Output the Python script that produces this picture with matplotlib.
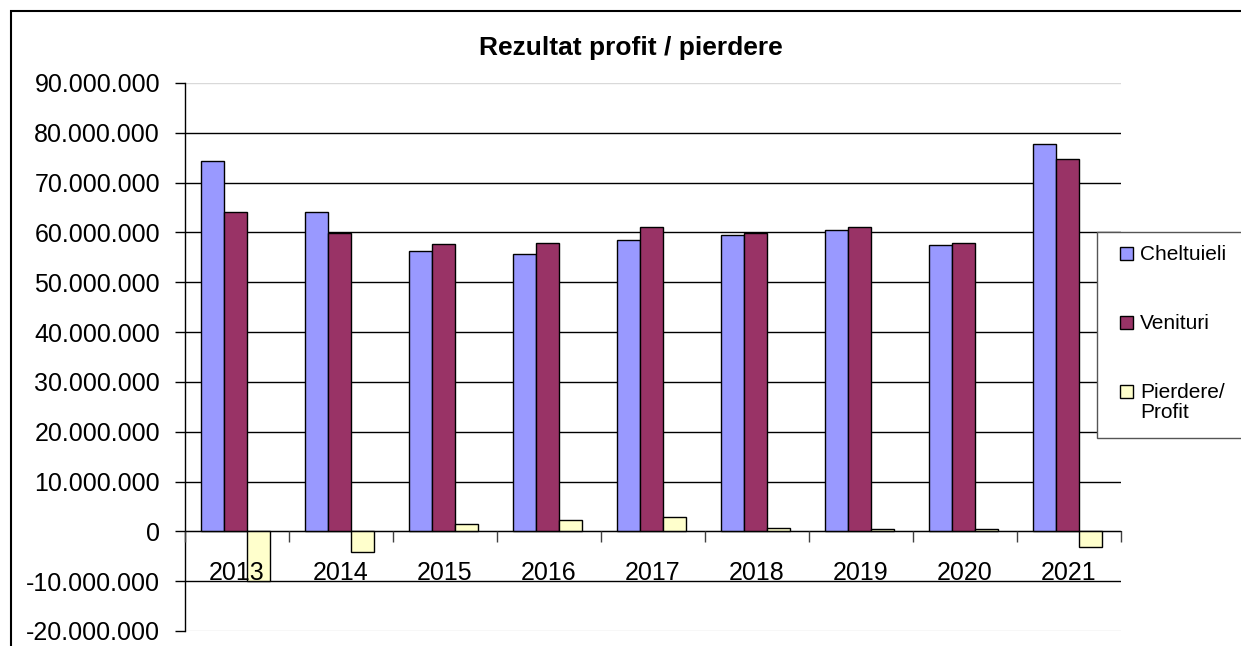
import matplotlib
matplotlib.use("Agg")
import matplotlib.pyplot as plt
from matplotlib.patches import Rectangle
from matplotlib.ticker import FuncFormatter, FixedLocator
import numpy as np

# date
ani = ["2013", "2014", "2015", "2016", "2017", "2018", "2019", "2020", "2021"]
cheltuieli = [74.3e6, 64.1e6, 56.2e6, 55.7e6, 58.5e6, 59.4e6, 60.5e6, 57.4e6, 77.7e6]
venituri = [64.1e6, 59.9e6, 57.7e6, 57.95e6, 61.0e6, 59.9e6, 61.0e6, 57.9e6, 74.8e6]
pierdere_profit = [-10.0e6, -4.2e6, 1.4e6, 2.3e6, 2.8e6, 0.6e6, 0.5e6, 0.5e6, -3.1e6]
serii = ["Cheltuieli", "Venituri", "Pierdere/\nProfit"]
culori = ["#9999FF", "#993366", "#FFFFCC"]

plt.rcParams["font.family"] = ["Liberation Sans", "DejaVu Sans"]

W, H = 1241, 646
fig = plt.figure(figsize=(W / 100, H / 100), dpi=100)
ax = fig.add_axes([185 / W, 1 - 631 / H, (1121 - 185) / W, (631 - 83) / H])

x = np.arange(len(ani))
lat = 0.22
for i, (vals, c) in enumerate(zip([cheltuieli, venituri, pierdere_profit], culori)):
    ax.bar(x + (i - 1) * lat - 0.015, vals, width=lat, color=c,
           edgecolor="black", linewidth=1, zorder=2)

ax.set_xlim(-0.5, len(ani) - 0.5)
ax.set_ylim(-20e6, 90e6)
yt = np.arange(-20e6, 90e6 + 1, 10e6)
ax.set_yticks(yt)
ax.yaxis.set_major_formatter(FuncFormatter(lambda v, p: f"{int(round(v)):,}".replace(",", ".")))
ax.tick_params(axis="y", labelsize=18, length=7, width=1, pad=11, direction="out")

# gridlines sub bare, etichetele axelor peste bare
ax.set_axisbelow(False)
grid_col = ["#d9d9d9" if v in (yt[0], yt[-1]) else "black" for v in yt]
ax.hlines(yt, -0.5, len(ani) - 0.5, colors=grid_col, linewidth=1, zorder=0.5)

# axa x pe linia de zero
ax.spines["bottom"].set_position(("data", 0))
ax.spines["top"].set_visible(False)
ax.spines["right"].set_visible(False)
ax.spines["left"].set_linewidth(1)
ax.xaxis.set_major_locator(FixedLocator(np.arange(-0.5, len(ani), 1.0)))
ax.xaxis.set_major_formatter(FuncFormatter(lambda v, p: ""))
ax.xaxis.set_minor_locator(FixedLocator(x))
ax.set_xticklabels(ani, minor=True)
ax.tick_params(axis="x", which="major", length=8, width=1, direction="out", color="#404040")
ax.tick_params(axis="x", which="minor", length=0, labelsize=18, pad=21)

fig.text(630.5 / W, 1 - 48 / H, "Rezultat profit / pierdere", fontsize=19,
         fontweight="bold", ha="center", va="center")

# chenar exterior
fig.add_artist(Rectangle((11 / W, -0.1), 1.2, 1.1 - 11 / H, transform=fig.transFigure,
                         fill=False, edgecolor="black", linewidth=1.5))

# legenda
fig.add_artist(Rectangle((1097 / W, 1 - 438 / H), 0.2, (438 - 232) / H,
                         transform=fig.transFigure, facecolor="white",
                         edgecolor="#555555", linewidth=1, zorder=5))
for lab, c, yc in zip(serii, culori, [253, 322, 391]):
    fig.add_artist(Rectangle((1120 / W, 1 - (yc + 6.5) / H), 13 / W, 13 / H,
                             transform=fig.transFigure, facecolor=c,
                             edgecolor="black", linewidth=1, zorder=6))
    fig.text(1140 / W, 1 - (yc - 8) / H, lab, fontsize=15, ha="left", va="top",
             linespacing=1.1, zorder=6)

fig.savefig("out.png", dpi=100)
